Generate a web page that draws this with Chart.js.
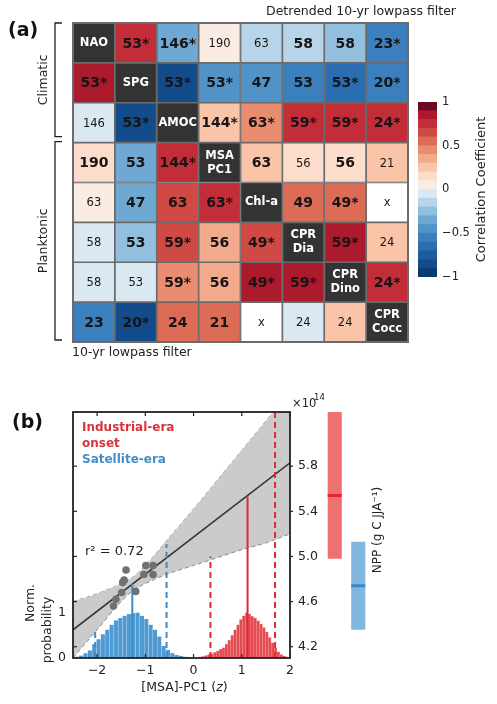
<!DOCTYPE html>
<html>
<head>
<meta charset="utf-8">
<script src="https://cdn.jsdelivr.net/npm/chart.js@4.4.1/dist/chart.umd.min.js"></script>
<style>
  html, body { margin: 0; padding: 0; background: #fff; }
  #wrap { position: relative; width: 497px; height: 704px; }
  canvas { position: absolute; }
</style>
</head>
<body>
<div id="wrap">
  <canvas id="matrix" width="497" height="362" style="left:0;top:0"></canvas>
  <canvas id="cbar" width="87" height="200" style="left:410px;top:90px"></canvas>
  <canvas id="panelb" width="497" height="324" style="left:0;top:380px"></canvas>
  <canvas id="npp" width="47" height="246" style="left:323px;top:412px"></canvas>
</div>
<script>
// ---- panel (a): correlation matrix ----
const variables = ['NAO', 'SPG', 'AMOC', 'MSA\nPC1', 'Chl-a', 'CPR\nDia', 'CPR\nDino', 'CPR\nCocc'];
// upper triangle: detrended 10-yr lowpass, lower triangle: 10-yr lowpass (null = diagonal / no data)
const corr = [
  [null, 0.70, -0.33, 0.08, -0.15, -0.20, -0.27, -0.52],
  [0.82, null, -0.85, -0.45, -0.42, -0.55, -0.63, -0.60],
  [-0.08, -0.85, null, 0.28, 0.45, 0.72, 0.72, 0.72],
  [0.18, -0.33, 0.72, null, 0.27, 0.12, 0.17, 0.26],
  [0.06, -0.32, 0.68, 0.70, null, 0.55, 0.55, null],
  [-0.08, -0.28, 0.66, 0.30, 0.68, null, 0.82, 0.24],
  [-0.03, -0.08, 0.48, 0.30, 0.82, 0.82, null, 0.75],
  [-0.58, -0.88, 0.58, 0.55, null, -0.08, 0.24, null]
];
// sample sizes (* = significant)
const sampleText = [
  ['', '53*', '146*', '190', '63', '58', '58', '23*'],
  ['53*', '', '53*', '53*', '47', '53', '53*', '20*'],
  ['146', '53*', '', '144*', '63*', '59*', '59*', '24*'],
  ['190', '53', '144*', '', '63', '56', '56', '21'],
  ['63', '47', '63', '63*', '', '49', '49*', 'x'],
  ['58', '53', '59*', '56', '49*', '', '59*', '24'],
  ['58', '53', '59*', '56', '49*', '59*', '', '24*'],
  ['23', '20*', '24', '21', 'x', '24', '24', '']
];
const cbEdges = [-1, -0.9, -0.8, -0.7, -0.6, -0.5, -0.4, -0.3, -0.2, -0.1, 0, 0.1, 0.2, 0.3, 0.4, 0.5, 0.6, 0.7, 0.8, 0.9, 1];
const cbTicks = [-1, -0.5, 0, 0.5, 1];

// ---- panel (b) ----
const zTicks = [-2, -1, 0, 1, 2];
const probTicks = [0, 1];
const nppTicks = [4.2, 4.6, 5, 5.4, 5.8];
const satBinX = [-2.42, -2.33, -2.24, -2.15, -2.06, -1.97, -1.88, -1.79, -1.70, -1.61, -1.52, -1.43, -1.34, -1.25,
  -1.16, -1.07, -0.98, -0.89, -0.80, -0.71, -0.62, -0.53, -0.44, -0.35, -0.26, -0.17, -0.08];
const satProb = [0.02, 0.045, 0.10, 0.16, 0.30, 0.41, 0.52, 0.62, 0.73, 0.83, 0.88, 0.93, 0.97, 0.99,
  1.00, 0.93, 0.86, 0.73, 0.62, 0.47, 0.26, 0.17, 0.10, 0.06, 0.04, 0.02, 0.01];
const indBinX = [0.14, 0.20, 0.26, 0.32, 0.38, 0.44, 0.50, 0.56, 0.62, 0.68, 0.74, 0.80, 0.86, 0.92, 0.98, 1.04,
  1.10, 1.16, 1.22, 1.28, 1.34, 1.40, 1.46, 1.52, 1.58, 1.64, 1.70, 1.76, 1.82, 1.88, 1.94];
const indProb = [0.02, 0.03, 0.05, 0.07, 0.09, 0.12, 0.15, 0.19, 0.22, 0.30, 0.39, 0.50, 0.62, 0.73, 0.85, 0.93,
  1.00, 0.97, 0.92, 0.88, 0.82, 0.75, 0.67, 0.57, 0.45, 0.33, 0.22, 0.13, 0.07, 0.04, 0.02];
const obsZ = [-1.40, -1.44, -1.47, -1.20, -1.49, -1.61, -1.66, -0.99, -0.84, -1.03, -0.84];
const obsNPP = [4.88, 4.79, 4.77, 4.69, 4.68, 4.62, 4.56, 4.92, 4.92, 4.84, 4.84];
const fitZ = [-2.5, 2];
const fitNPP = [4.35, 5.83];
const bandZ = [-2.5, -2, -1.5, -1.25, -1, -0.5, 0, 0.5, 1, 1.5, 2];
const bandUpper = [4.60, 4.67, 4.76, 4.82, 4.92, 5.17, 5.42, 5.68, 5.94, 6.20, 6.46];
const bandLower = [4.10, 4.35, 4.60, 4.70, 4.76, 4.85, 4.92, 4.99, 5.06, 5.12, 5.20];
// satellite era / industrial onset: 2.5%, median, 97.5% in z and in NPP
const satZ = [-2.04, -1.27, -0.56];
const satNPP = [4.33, 4.76, 5.11];
const indZ = [0.35, 1.12, 1.69];
const indNPP = [5.00, 5.53, 6.40];
const nppEras = ['Industrial-era onset', 'Satellite-era'];
const nppRanges = [[4.98, 6.40], [4.35, 5.13]];
const nppMedians = [5.54, 4.74];
const NPP_MIN = 4.1, NPP_MAX = 6.28, PROB_MAX = 5.47, Z_MIN = -2.5, Z_MAX = 2;

// ---- styling ----
const FONT = '"DejaVu Sans", sans-serif';
const rdbu = ['#0b3a70', '#144c8b', '#1d5c9f', '#2a6db0', '#3b80bd', '#5293c7', '#6fa8d2', '#93bfdf', '#b7d4e8', '#dae8f2',
  '#fbece3', '#fcdccb', '#f9c4a8', '#f3a98b', '#ea8c6f', '#dd6c56', '#cf4a44', '#c22d38', '#ab1a2d', '#6d0621'];
const colorFor = r => r === null ? '#ffffff' : rdbu[Math.min(19, Math.max(0, Math.floor((r + 1) * 10 + 1e-9)))];
const minus = v => String(v).replace('-', '\u2212');
const BLUE = '#3d8bcb', RED = '#e02a30';
const noGrid = { display: false, drawTicks: false };

const noUI = { legend: { display: false }, tooltip: { enabled: false } };

const matrixText = {
  id: 'matrixText',
  afterDatasetsDraw(chart) {
    const { ctx, chartArea: a, scales: { y } } = chart;
    ctx.save();
    ctx.textAlign = 'center';
    ctx.textBaseline = 'middle';
    chart.data.datasets.forEach((ds, i) => {
      chart.getDatasetMeta(i).data.forEach((bar, j) => {
        const cx = bar.x, cy = (bar.y + bar.base) / 2;
        if (i === j) {
          ctx.fillStyle = '#fff';
          ctx.font = 'bold 11.5px ' + FONT;
          const lines = variables[i].split('\n');
          lines.forEach((t, k) => ctx.fillText(t, cx, cy + (k - (lines.length - 1) / 2) * 14));
        } else {
          const txt = sampleText[i][j], r = corr[i][j];
          const n = parseInt(txt, 10);
          const strong = r !== null && Math.abs(r) * Math.sqrt(n - 2) > 1.2;
          ctx.fillStyle = '#151515';
          ctx.font = strong ? 'bold 14px ' + FONT : '11.5px ' + FONT;
          ctx.fillText(txt, cx, cy + 1);
        }
      });
    });
    ctx.strokeStyle = '#6b6b6b';
    ctx.lineWidth = 2;
    ctx.strokeRect(a.left, a.top, a.right - a.left, a.bottom - a.top);

    // group brackets
    const bx = 55;
    const bracket = (y0, y1, label) => {
      ctx.strokeStyle = '#222';
      ctx.lineWidth = 1.3;
      ctx.beginPath();
      ctx.moveTo(bx + 7, y0); ctx.lineTo(bx, y0); ctx.lineTo(bx, y1); ctx.lineTo(bx + 7, y1);
      ctx.stroke();
      ctx.save();
      ctx.translate(44, (y0 + y1) / 2);
      ctx.rotate(-Math.PI / 2);
      ctx.fillStyle = '#222';
      ctx.font = '12.5px ' + FONT;
      ctx.fillText(label, 0, 0);
      ctx.restore();
    };
    bracket(y.getPixelForValue(0), y.getPixelForValue(3) - 6, 'Climatic');
    bracket(y.getPixelForValue(3) - 1, y.getPixelForValue(8) - 2, 'Planktonic');

    ctx.fillStyle = '#111';
    ctx.textAlign = 'left';
    ctx.font = 'bold 19px ' + FONT;
    ctx.fillText('(a)', 8, 31);
    ctx.font = '12.5px ' + FONT;
    ctx.fillStyle = '#222';
    ctx.fillText('10-yr lowpass filter', 72, 353);
    ctx.textAlign = 'right';
    ctx.fillText('Detrended 10-yr lowpass filter', 456, 12);
    ctx.restore();
  }
};

new Chart(document.getElementById('matrix'), {
  type: 'bar',
  data: {
    labels: variables,
    datasets: variables.map((v, i) => ({
      label: v,
      data: variables.map(() => [i, i + 1]),
      backgroundColor: corr[i].map((r, j) => i === j ? '#333333' : colorFor(r)),
      borderColor: '#6b6b6b',
      borderWidth: 1.2,
      borderSkipped: false,
      grouped: false,
      barPercentage: 1,
      categoryPercentage: 1
    }))
  },
  options: {
    responsive: false,
    animation: false,
    layout: { padding: { left: 73, top: 23, right: 89, bottom: 20 } },
    scales: {
      x: { display: false },
      y: { display: false, min: 0, max: 8, reverse: true }
    },
    plugins: noUI
  },
  plugins: [matrixText]
});

// colour bar
const cbTitle = {
  id: 'cbTitle',
  afterDraw(chart) {
    const { ctx, chartArea: a } = chart;
    ctx.save();
    ctx.translate(72, (a.top + a.bottom) / 2);
    ctx.rotate(-Math.PI / 2);
    ctx.textAlign = 'center';
    ctx.textBaseline = 'middle';
    ctx.fillStyle = '#222';
    ctx.font = '13px ' + FONT;
    ctx.fillText('Correlation Coefficient', 0, 0);
    ctx.restore();
  }
};

new Chart(document.getElementById('cbar'), {
  type: 'bar',
  data: {
    labels: [''],
    datasets: rdbu.map((c, k) => ({
      data: [[cbEdges[k], cbEdges[k + 1]]],
      backgroundColor: c,
      borderWidth: 0,
      grouped: false,
      barPercentage: 1,
      categoryPercentage: 1
    }))
  },
  options: {
    responsive: false,
    animation: false,
    layout: { padding: { left: 8, top: 9, bottom: 13, right: 0 } },
    scales: {
      x: { display: false },
      y: {
        position: 'right', min: -1, max: 1,
        grid: noGrid, border: { display: false },
        afterFit: s => { s.width = 60; },
        afterBuildTicks: s => { s.ticks = cbTicks.map(v => ({ value: v })); },
        ticks: { padding: 5, color: '#222', font: { family: FONT, size: 11.5 }, callback: v => minus(v) }
      }
    },
    plugins: noUI
  },
  plugins: [cbTitle]
});

// panel (b)
const pts = (xs, ys) => xs.map((x, i) => ({ x, y: ys[i] }));
const vline = (z, top, color, dash) => ({
  type: 'line', yAxisID: 'y2',
  data: [{ x: z, y: NPP_MIN }, { x: z, y: top }],
  borderColor: color, borderWidth: 2, borderDash: dash, pointRadius: 0, clip: 0, order: 1
});

const panelDeco = {
  id: 'panelDeco',
  afterDraw(chart) {
    const { ctx, chartArea: a, scales: { x, y2 } } = chart;
    ctx.save();
    ctx.strokeStyle = '#222';
    ctx.lineWidth = 1.2;
    const seg = (x0, y0, x1, y1) => { ctx.beginPath(); ctx.moveTo(x0, y0); ctx.lineTo(x1, y1); ctx.stroke(); };
    zTicks.forEach(v => {
      const px = x.getPixelForValue(v);
      seg(px, a.bottom, px, a.bottom - 4);
      seg(px, a.top, px, a.top + 4);
    });
    nppTicks.forEach(v => {
      const py = y2.getPixelForValue(v);
      seg(a.left, py, a.left + 4, py);
      seg(a.right, py, a.right + 3, py);
    });
    ctx.lineWidth = 1.8;
    ctx.strokeRect(a.left, a.top, a.right - a.left, a.bottom - a.top);

    ctx.textBaseline = 'middle';
    ctx.textAlign = 'left';
    ctx.fillStyle = '#111';
    ctx.font = 'bold 19px ' + FONT;
    ctx.fillText('(b)', 12, 43);
    ctx.font = 'bold 12px ' + FONT;
    ctx.fillStyle = '#d9333a';
    ctx.fillText('Industrial-era', 82, 48);
    ctx.fillText('onset', 82, 64);
    ctx.fillStyle = '#3f8fcc';
    ctx.fillText('Satellite-era', 82, 80);
    ctx.fillStyle = '#222';
    ctx.font = '13px ' + FONT;
    ctx.fillText('r\u00b2 = 0.72', 85, 172);

    ctx.font = '11.5px ' + FONT;
    ctx.fillText('\u00d710', 292, 24);
    ctx.font = '8.5px ' + FONT;
    ctx.fillText('14', 314, 18);

    // x label with italic z
    const s1 = '[MSA]-PC1 (', s3 = ')';
    ctx.font = '12.5px ' + FONT;
    const w1 = ctx.measureText(s1).width, w3 = ctx.measureText(s3).width;
    ctx.font = 'italic 12.5px ' + FONT;
    const w2 = ctx.measureText('z').width;
    let tx = (a.left + a.right) / 2 + 3 - (w1 + w2 + w3) / 2;
    ctx.font = '12.5px ' + FONT; ctx.fillText(s1, tx, 308); tx += w1;
    ctx.font = 'italic 12.5px ' + FONT; ctx.fillText('z', tx, 308); tx += w2;
    ctx.font = '12.5px ' + FONT; ctx.fillText(s3, tx, 308);

    const vtext = (t, cx, cy) => {
      ctx.save(); ctx.translate(cx, cy); ctx.rotate(-Math.PI / 2);
      ctx.textAlign = 'center'; ctx.fillText(t, 0, 0); ctx.restore();
    };
    ctx.font = '12.5px ' + FONT;
    vtext('Norm.', 31, 223);
    vtext('probability', 48, 250);
    ctx.font = '12px ' + FONT;
    vtext('NPP (g C JJA\u207b\u00b9)', 378, 150);
    ctx.restore();
  }
};

new Chart(document.getElementById('panelb'), {
  data: {
    datasets: [
      { type: 'line', yAxisID: 'y2', data: pts(bandZ, bandUpper), borderColor: '#8a8a8a', borderWidth: 1,
        borderDash: [4, 3], pointRadius: 0, cubicInterpolationMode: 'monotone', fill: false, order: 10 },
      { type: 'line', yAxisID: 'y2', data: pts(bandZ, bandLower), borderColor: '#8a8a8a', borderWidth: 1,
        borderDash: [4, 3], pointRadius: 0, cubicInterpolationMode: 'monotone', fill: '-1',
        backgroundColor: '#cbcbcb', order: 9 },
      { type: 'bar', yAxisID: 'yP', data: pts(satBinX, satProb), backgroundColor: '#509ad4',
        barThickness: 3.4, grouped: false, order: 5 },
      { type: 'bar', yAxisID: 'yP', data: pts(indBinX, indProb), backgroundColor: '#e54c52',
        barThickness: 2.1, grouped: false, order: 5 },
      { type: 'line', yAxisID: 'y2', data: pts(fitZ, fitNPP), borderColor: '#333', borderWidth: 1.6,
        pointRadius: 0, order: 2 },
      vline(satZ[0], satNPP[0], BLUE, [6, 4]),
      vline(satZ[1], satNPP[1], BLUE, []),
      vline(satZ[2], satNPP[2], BLUE, [6, 4]),
      vline(indZ[0], indNPP[0], RED, [6, 4]),
      vline(indZ[1], indNPP[1], RED, []),
      vline(indZ[2], indNPP[2], RED, [6, 4]),
      { type: 'line', yAxisID: 'y2', data: pts(obsZ, obsNPP), showLine: false, pointRadius: 3.8,
        pointBackgroundColor: '#707070', pointBorderWidth: 0, order: 0 }
    ]
  },
  options: {
    responsive: false,
    animation: false,
    layout: { padding: { top: 32, left: 0, right: 0, bottom: 0 } },
    scales: {
      x: {
        type: 'linear', min: Z_MIN, max: Z_MAX, offset: false,
        grid: noGrid, border: { display: false },
        afterFit: s => { s.height = 46; },
        afterBuildTicks: s => { s.ticks = zTicks.map(v => ({ value: v })); },
        ticks: { padding: 5, color: '#222', font: { family: FONT, size: 12.5 }, callback: v => minus(v), maxRotation: 0 }
      },
      yP: {
        type: 'linear', position: 'left', min: 0, max: PROB_MAX,
        grid: noGrid, border: { display: false },
        afterFit: s => { s.width = 73; },
        afterBuildTicks: s => { s.ticks = probTicks.map(v => ({ value: v })); },
        ticks: { padding: 7, color: '#222', font: { family: FONT, size: 12.5 } }
      },
      y2: {
        type: 'linear', position: 'right', min: NPP_MIN, max: NPP_MAX,
        grid: noGrid, border: { display: false },
        afterFit: s => { s.width = 207; },
        afterBuildTicks: s => { s.ticks = nppTicks.map(v => ({ value: v })); },
        ticks: { padding: 8, color: '#222', font: { family: FONT, size: 12.5 } }
      }
    },
    plugins: noUI
  },
  plugins: [panelDeco]
});

// NPP ranges beside panel (b)
const medianLines = {
  id: 'medianLines',
  afterDatasetsDraw(chart) {
    const { ctx, scales: { y } } = chart;
    ctx.save();
    chart.getDatasetMeta(0).data.forEach((bar, i) => {
      const py = y.getPixelForValue(nppMedians[i]);
      ctx.strokeStyle = i === 0 ? '#e3262e' : '#3a87c5';
      ctx.lineWidth = 3;
      ctx.beginPath();
      ctx.moveTo(bar.x - bar.width / 2, py);
      ctx.lineTo(bar.x + bar.width / 2, py);
      ctx.stroke();
    });
    ctx.restore();
  }
};

new Chart(document.getElementById('npp'), {
  type: 'bar',
  data: {
    labels: nppEras,
    datasets: [{ data: nppRanges, backgroundColor: ['#ee7070', '#80b7df'], borderWidth: 0,
      barPercentage: 0.6, categoryPercentage: 1, clip: 0 }]
  },
  options: {
    responsive: false,
    animation: false,
    layout: { padding: 0 },
    scales: { x: { display: false }, y: { display: false, min: NPP_MIN, max: NPP_MAX } },
    plugins: noUI
  },
  plugins: [medianLines]
});
</script>
</body>
</html>
